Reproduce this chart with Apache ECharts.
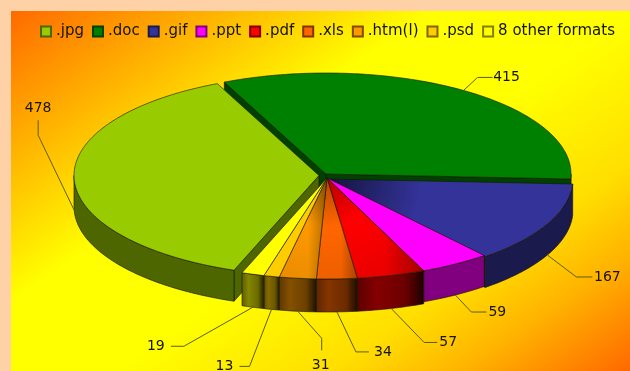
<!DOCTYPE html>
<html>
<head>
<meta charset="utf-8">
<style>html,body{margin:0;padding:0;background:#ffd1a6}#main{width:630px;height:371px}</style>
<script src="https://cdn.jsdelivr.net/npm/echarts@6/dist/echarts.min.js"></script>
</head>
<body>
<div id="main"></div>
<script>
// File formats and their counts, clockwise from the left-hand slice
const formats = ['.jpg', '.doc', '.gif', '.ppt', '.pdf', '.xls', '.htm(l)', '.psd', '8 other formats'];
const counts = [478, 415, 167, 59, 57, 34, 31, 13, 19];
const colors = ['#99cc00', '#008000', '#333399', '#ff00ff', '#ff0000', '#ff6600', '#ff9900', '#ffcc00', '#ffff00'];

// Pie geometry (pixels): ellipse radii and rim depth of each slice
const RX = 245, RY = 101;
const depths = [31, 29, 31, 31, 33, 33, 33, 33, 33];
const FIRST_SLICE_START = -159.7;
// Centre of each exploded slice
const centres = [[319, 175.5], [326, 174], [328, 179], [327, 178], [327, 178], [327, 178], [327, 178], [327, 178], [327, 178]];
// Shading kind per slice: flat colour, apex-darkened top, shaded top and rim, shaded rim only
const shading = ['flat', 'flat', 'apex', 'flat', 'side', 'side', 'side', 'rim', 'rim'];
// Leader routes relative to the rim: elbow offset, end offset, label offset
const leaders = [
  [[-36, -75], [-36, -90], [-36, -102]],
  [[14, -13], [29, -13], [43, -13]],
  [[29, 22], [45, 22], [60, 22]],
  [[16, 17], [31, 17], [42, 17]],
  [[33, 34], [46, 34], [57, 34]],
  [[19, 40], [32, 40], [46, 40]],
  [[24, 27], [24, 39], [23, 54]],
  [[-22, 57], [-32, 57], [-47, 57]],
  [[-69, 39], [-82, 39], [-97, 39]]
];

const TOTAL = counts.reduce((a, b) => a + b, 0);
const spans = counts.map(v => v / TOTAL * 360);
const starts = spans.map((_, i) => FIRST_SLICE_START + spans.slice(0, i).reduce((a, b) => a + b, 0));
const rad = d => d * Math.PI / 180;
const rimPoint = (c, a, drop = 0) => [c[0] + RX * Math.sin(rad(a)), c[1] - RY * Math.cos(rad(a)) + drop];
const shade = (hex, k) => {
  const n = parseInt(hex.slice(1), 16);
  return `rgb(${Math.round((n >> 16) * k)},${Math.round(((n >> 8) & 255) * k)},${Math.round((n & 255) * k)})`;
};
const arcAngles = (a0, a1) => {
  const list = [];
  for (let a = a0; a < a1; a += 1) list.push(a);
  list.push(a1);
  return list;
};
const sameCentre = (i, j) => centres[i][0] === centres[j][0] && centres[i][1] === centres[j][1];
const EDGE = { stroke: 'rgba(20,20,0,0.6)', lineWidth: 1 };

function topFill(i, c) {
  const base = colors[i];
  if (shading[i] === 'flat' || shading[i] === 'rim') return base;
  const stops = shading[i] === 'apex'
    ? [{ offset: 0, color: shade(base, 0.4) }, { offset: 0.55, color: base }, { offset: 1, color: base }]
    : [{ offset: 0, color: shade(base, 0.7) }, { offset: 0.45, color: base }, { offset: 1, color: shade(base, 0.92) }];
  return { type: 'radial', x: c[0], y: c[1], r: shading[i] === 'apex' ? 170 : 108, colorStops: stops, global: true };
}

function wallFill(i) {
  const base = colors[i];
  if (shading[i] !== 'side' && shading[i] !== 'rim') return shade(base, 0.5);
  return {
    type: 'linear', x: 0, y: 0, x2: 1, y2: 0,
    colorStops: [
      { offset: 0, color: shade(base, 0.36) }, { offset: 0.3, color: shade(base, 0.52) },
      { offset: 0.72, color: shade(base, 0.42) }, { offset: 1, color: shade(base, 0.1) }
    ]
  };
}

function renderSlice(i, params, api) {
  const c = centres[i];
  const depth = depths[i];
  const a0 = starts[i];
  const a1 = a0 + api.value(0) / TOTAL * 360;
  const n = formats.length;
  const children = [];
  const face = a => {
    const rim = rimPoint(c, a);
    return { type: 'polygon', shape: { points: [c, rim, [rim[0], rim[1] + depth], [c[0], c[1] + depth]] },
      style: Object.assign({ fill: shade(colors[i], 0.5) }, EDGE) };
  };
  // Cut faces show only where the slice is pulled away from its neighbour
  if (Math.sin(rad(a0)) < 0 && !sameCentre(i, (i + n - 1) % n)) children.push(face(a0));
  if (Math.sin(rad(a1)) > 0 && !sameCentre(i, (i + 1) % n)) children.push(face(a1));

  // Outer rim: only the part that faces the viewer
  const wrap = a0 < -90 ? 360 : 0;
  const from = Math.max(a0 + wrap, 90);
  const to = Math.min(a1 + wrap, 270);
  if (to > from) {
    const arc = arcAngles(from, to);
    const pts = arc.map(a => rimPoint(c, a)).concat(arc.slice().reverse().map(a => rimPoint(c, a, depth)));
    children.push({ type: 'polygon', shape: { points: pts }, style: Object.assign({ fill: wallFill(i) }, EDGE) });
  }

  const top = [c].concat(arcAngles(a0, a1).map(a => rimPoint(c, a)));
  children.push({ type: 'polygon', shape: { points: top }, style: Object.assign({ fill: topFill(i, c) }, EDGE) });
  if (shading[i] === 'side') {
    children.push({ type: 'polygon', shape: { points: top }, style: {
      fill: { type: 'linear', x: 0, y: 0, x2: 1, y2: 0, colorStops: [{ offset: 0, color: 'rgba(0,0,0,0)' }, { offset: 0.6, color: 'rgba(0,0,0,0)' }, { offset: 1, color: 'rgba(0,0,0,0.3)' }] }
    } });
  }

  // Leader line and value label
  const mid = (a0 + a1) / 2;
  const front = Math.cos(rad(mid)) < 0.2;
  const start = rimPoint(c, mid, front ? depth : 0);
  const route = leaders[i];
  children.push({ type: 'polyline', shape: { points: [start, [start[0] + route[0][0], start[1] + route[0][1]], [start[0] + route[1][0], start[1] + route[1][1]]] },
    style: { fill: null, stroke: '#5e5e00', lineWidth: 1 } });
  children.push({ type: 'text', style: { x: start[0] + route[2][0], y: start[1] + route[2][1], text: String(api.value(0)),
    font: '14px "DejaVu Sans"', fill: '#141400', align: 'center', verticalAlign: 'middle' } });

  return { type: 'group', children };
}

const chart = echarts.init(document.getElementById('main'), null, { renderer: 'canvas' });
chart.setOption({
  animation: false,
  backgroundColor: '#ffd1a6',
  graphic: [{
    type: 'rect', z: -10, silent: true,
    shape: { x: 11, y: 11, width: 619, height: 360 },
    style: { fill: { type: 'linear', x: 11, y: 11, x2: 379, y2: 544, global: true, colorStops: [
      { offset: 0, color: '#ff6a00' }, { offset: 0.37, color: '#ffff00' }, { offset: 0.55, color: '#ffff00' },
      { offset: 0.74, color: '#ffde00' }, { offset: 0.85, color: '#ffb400' }, { offset: 1, color: '#ff6900' }
    ] } }
  }],
  legend: {
    data: formats, left: 40, top: 24, padding: 0, itemWidth: 10, itemHeight: 10, itemGap: 8,
    icon: 'rect', selectedMode: false,
    textStyle: { fontFamily: 'DejaVu Sans', fontSize: 15, color: '#141400' }
  },
  series: formats.map((name, i) => ({
    type: 'custom', name, coordinateSystem: 'none',
    z: 2 + Math.round((1 - Math.cos(rad(starts[i] + spans[i] / 2))) * 10),
    itemStyle: { color: colors[i], borderColor: shade(colors[i], 0.5), borderWidth: 1 },
    data: [counts[i]],
    renderItem: (params, api) => renderSlice(i, params, api)
  }))
});
</script>
</body>
</html>
